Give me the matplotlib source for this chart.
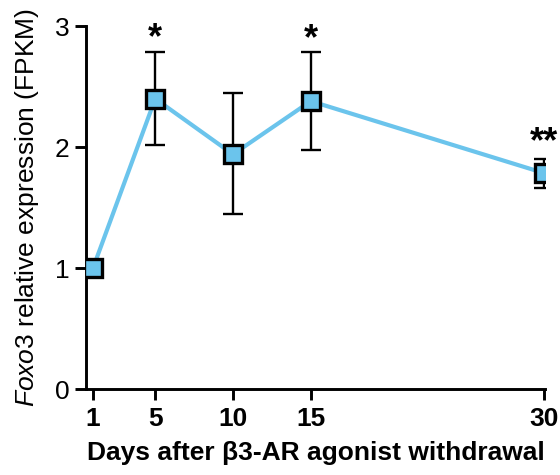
import numpy as np
import matplotlib
matplotlib.use("Agg")
import matplotlib.pyplot as plt

plt.rcParams['font.family'] = ['Liberation Sans', 'DejaVu Sans']
plt.rcParams['mathtext.fontset'] = 'custom'
plt.rcParams['mathtext.it'] = 'Liberation Sans:italic'
plt.rcParams['mathtext.rm'] = 'Liberation Sans'

# data
days = np.array([1, 5, 10, 15, 30])
expr = np.array([1.0, 2.40, 1.94, 2.38, 1.785])
err_hi = np.array([1.0, 2.79, 2.45, 2.79, 1.90])
err_lo = np.array([1.0, 2.02, 1.45, 1.98, 1.66])
stars = ['', '*', '', '*', '**']
star_y = [None, 2.90, None, 2.89, 2.04]

blue = '#6BC4EC'

fig = plt.figure(figsize=(5.6, 4.75), dpi=100)
ax = fig.add_axes([0.1536, 0.181, 0.8194, 0.764])

yerr = np.vstack([expr - err_lo, err_hi - expr])
ax.errorbar(days, expr, yerr=yerr, fmt='none', ecolor='k', elinewidth=1.7,
            capsize=7.5, capthick=1.7, zorder=2)
ax.plot(days, expr, '-', color=blue, lw=3, zorder=1)
ax.plot(days, expr, 's', ms=13.5, mfc=blue, mec='k', mew=2.4, zorder=3)

for d, s, sy in zip(days, stars, star_y):
    if s:
        ax.text(d, sy, s, ha='center', va='center', fontsize=26,
                fontweight='bold')

ax.set_xlim(0.55, 30.05)
ax.set_ylim(0, 3)
ax.set_xticks(days)
ax.set_xticklabels([str(d) for d in days], fontweight='bold')
ax.set_yticks([0, 1, 2, 3])

for side in ['top', 'right']:
    ax.spines[side].set_visible(False)
for side in ['left', 'bottom']:
    ax.spines[side].set_linewidth(2.1)
ax.tick_params(axis='both', width=2.1, length=8, labelsize=19)
ax.tick_params(axis='x', pad=5)
ax.tick_params(axis='y', pad=4)

ax.set_xlabel('Days after β3-AR agonist withdrawal', fontsize=19,
              fontweight='bold', labelpad=7)
ax.set_ylabel(r'$\it{Foxo3}$ relative expression (FPKM)', fontsize=19,
              labelpad=10)

fig.savefig('out.png', dpi=100)
